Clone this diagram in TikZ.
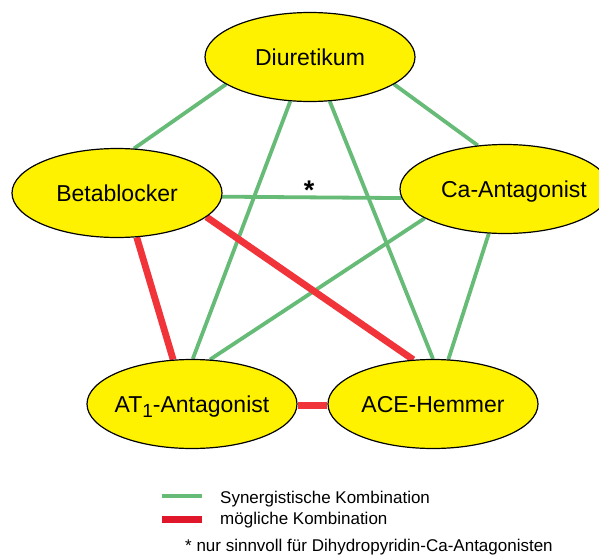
\documentclass[tikz,border=0pt]{standalone}
\usepackage{fontspec}
\setmainfont{Liberation Sans}
\usetikzlibrary{shapes.geometric,backgrounds}
\definecolor{synGreen}{RGB}{102,187,119}
\definecolor{posRed}{RGB}{240,52,58}
\definecolor{legRed}{RGB}{224,22,43}
\begin{document}
\begin{tikzpicture}[x=1pt,y=-1pt,
  drug/.style={ellipse, draw=black, line width=1.2pt, fill=yellow,
    minimum width=210pt, minimum height=89pt, inner ysep=0pt, inner xsep=-30pt,
    text depth=0pt, font=\fontsize{23}{23}\selectfont},
  synline/.style={draw=synGreen, line width=3.8pt},
  redline/.style={draw=posRed, line width=6.8pt},
  legsyn/.style={draw=synGreen, line width=4pt},
  legred/.style={draw=legRed, line width=7pt},
  legtext/.style={anchor=base west, inner sep=0pt, font=\fontsize{17}{17}\selectfont}]
\useasboundingbox (0,0) rectangle (599,554);
\clip (0,0) rectangle (599,554);
% nodes
\node[drug] (D) at (310,57) {Diuretikum};
\node[drug] (B) at (117,193) {Betablocker};
\node[drug] (C) at (505,189) {\hspace*{18pt}Ca-Antagonist};
\node[drug] (A) at (192,404) {AT\raisebox{-5pt}{\fontsize{19}{19}\selectfont 1}-Antagonist};
\node[drug] (E) at (433,404) {ACE-Hemmer};
% star
\node[anchor=base, inner sep=0pt, font=\fontsize{27}{27}\selectfont\bfseries] (star) at (309,199) {*};
% connectors
\begin{scope}[on background layer]
  \draw[synline] (D.198) -- (B.69);
  \draw[synline] (D.342) -- (C.122);
  \draw[synline] (D.246) -- (A.89);
  \draw[synline] (D.294) -- (E.90);
  \draw[synline] (B.358) -- (C.185);
  \draw[synline] (C.200) -- (A.68);
  \draw[synline] (C.250) -- (E.71);
  \draw[redline] (B.294) -- (A.113);
  \draw[redline] (B.345) -- (E.114);
  \draw[redline] (A.359) -- (E.181);
\end{scope}
% legend
\coordinate (g1) at (162,496);
\coordinate (g2) at (202,496);
\coordinate (r1) at (162,519);
\coordinate (r2) at (202,519);
\draw[legsyn] (g1) -- (g2);
\draw[legred] (r1) -- (r2);
\node[legtext] (t1) at (220,503) {Synergistische Kombination};
\node[legtext] (t2) at (220,524.5) {mögliche Kombination};
\node[legtext] (t3) at (185,551) {* nur sinnvoll für Dihydropyridin-Ca-Antagonisten};
\end{tikzpicture}
\end{document}
